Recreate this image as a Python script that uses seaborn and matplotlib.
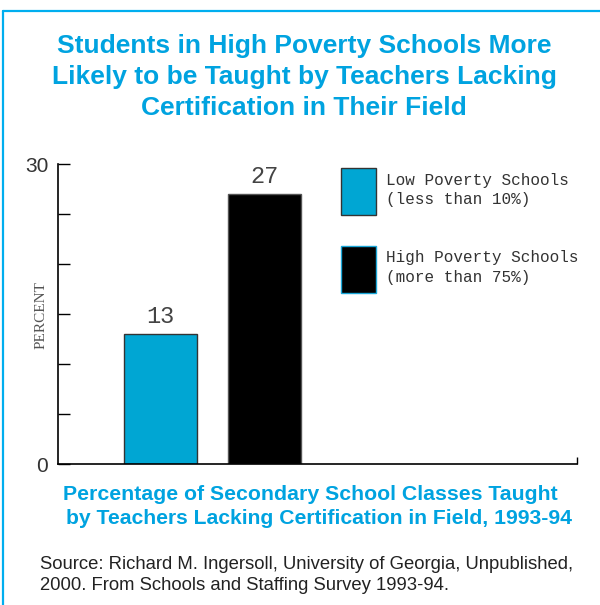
import matplotlib
matplotlib.use("Agg")
import matplotlib.pyplot as plt
import seaborn as sns
import pandas as pd
from matplotlib.lines import Line2D
from matplotlib.patches import Patch

# ---- data ----
categories = ["Low Poverty Schools\n(less than 10%)", "High Poverty Schools\n(more than 75%)"]
values = [13, 27]
bar_labels = ["13", "27"]
yticks = [0, 5, 10, 15, 20, 25, 30]
ytick_labels = ["0", "", "", "", "", "", "30"]
title = "Students in High Poverty Schools More\nLikely to be Taught by Teachers Lacking\nCertification in Their Field"
subtitle_lines = ["Percentage of Secondary School Classes Taught",
                  "by Teachers Lacking Certification in Field, 1993-94"]
source = "Source: Richard M. Ingersoll, University of Georgia, Unpublished,\n2000. From Schools and Staffing Survey 1993-94."

# ---- styles ----
BLUE_BAR = "#00A6D3"
BLUE_TXT = "#00A3E0"
BORDER = "#00AEEF"
bar_colors = [BLUE_BAR, "#000000"]
bar_edges = ["#333333", "#555555"]
legend_edges = ["#333333", "#1AA7D8"]

sns.set_theme(style="white")
plt.rcParams["font.family"] = ["Liberation Sans", "DejaVu Sans"]

W, H = 600, 605
fig = plt.figure(figsize=(W / 100, H / 100), dpi=100)
fig.patch.set_facecolor("white")

ax = fig.add_axes([58 / W, 1 - 464 / H, 519 / W, 300 / H])
df = pd.DataFrame({"group": categories, "value": values})
sns.barplot(data=df, x="group", y="value", hue="group", palette=bar_colors,
            width=0.7, saturation=1, ax=ax, legend=False, linewidth=1)

for cont, ec in zip(ax.containers, bar_edges):
    for p in cont:
        p.set_edgecolor(ec)
        p.set_linewidth(1)

for cont, lab in zip(ax.containers, bar_labels):
    texts = ax.bar_label(cont, labels=[lab], padding=4, fontsize=17, color="#444444")
    for t in texts:
        t.set_fontfamily(["Liberation Mono"])
        t.set_fontsize(17)

xmax = 3.99
ax.set_xlim(-0.98, xmax)
ax.set_ylim(0, 30)
ax.set_yticks(yticks)
ax.set_yticklabels(ytick_labels)
ax.set_xticks([xmax])
ax.set_xticklabels([""])
ax.set_xlabel("")
ax.set_ylabel("PERCENT", fontfamily=["Liberation Serif"], fontsize=11, color="#555555")
ax.yaxis.set_label_coords(-0.020, 0.497)

for s in ["top", "right"]:
    ax.spines[s].set_visible(False)
for s in ["left", "bottom"]:
    ax.spines[s].set_color("black")
    ax.spines[s].set_linewidth(1.2)
ax.tick_params(axis="y", direction="in", length=8.6, width=1, color="black",
               labelsize=15, labelcolor="#333333", pad=7, left=True)
ax.tick_params(axis="x", direction="in", length=5, width=1, color="black", bottom=True)
ax.set_facecolor("white")
ax.grid(False)

handles = [Patch(facecolor=c, edgecolor=e, linewidth=1) for c, e in zip(bar_colors, legend_edges)]
fs_px = 16
leg = ax.legend(handles, categories, loc="upper left",
                bbox_to_anchor=(341 / W, 1 - 168 / H), bbox_transform=fig.transFigure,
                frameon=False, borderpad=0, borderaxespad=0,
                handlelength=35 / fs_px, handleheight=4.14, handletextpad=0.6,
                labelspacing=31 / fs_px,
                prop={"family": "Liberation Mono", "size": 11.5}, labelcolor="#333333")
for t in leg.get_texts():
    t.set_linespacing(1.35)

fig.text(304 / W, 1 - 34 / H, title, ha="center", va="top", fontsize=19,
         weight="bold", color=BLUE_TXT, linespacing=1.36)
fig.text(63 / W, 1 - 485 / H, subtitle_lines[0], ha="left", va="top", fontsize=15.3,
         weight="bold", color=BLUE_TXT)
fig.text(66 / W, 1 - 509 / H, subtitle_lines[1], ha="left", va="top", fontsize=15.25,
         weight="bold", color=BLUE_TXT)
fig.text(40 / W, 1 - 556 / H, source, ha="left", va="top", fontsize=13.3,
         color="#222222", linespacing=1.34)

fig.add_artist(Line2D([2.5 / W, 1], [1 - 10.5 / H, 1 - 10.5 / H], transform=fig.transFigure,
                      color=BORDER, linewidth=1.6))
fig.add_artist(Line2D([2.5 / W, 2.5 / W], [0, 1 - 10.5 / H], transform=fig.transFigure,
                      color=BORDER, linewidth=1.6))

fig.savefig("out.png", dpi=100, facecolor="white")
